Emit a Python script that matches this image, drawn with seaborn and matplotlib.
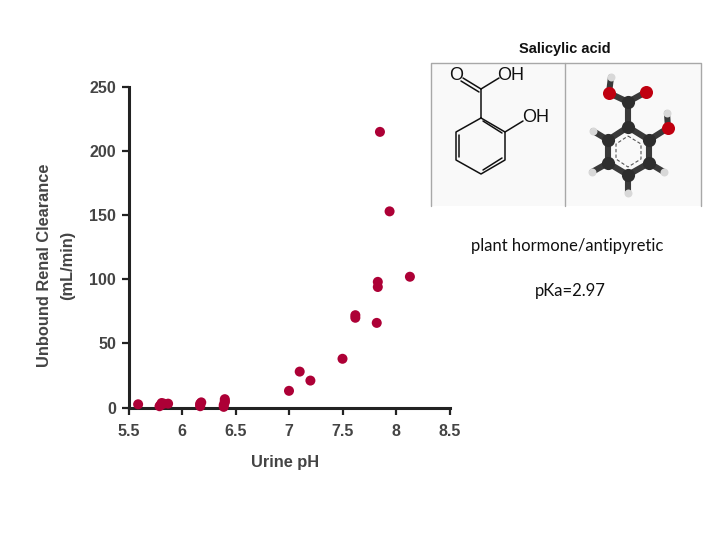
import pandas as pd
import seaborn as sns
import matplotlib.pyplot as plt
from matplotlib.patches import Rectangle

# Data
urine_ph = [5.59, 5.79, 5.8, 5.81, 5.83, 5.87, 6.17, 6.17, 6.17, 6.18,
            6.39, 6.39, 6.4, 6.4, 6.4, 7.0, 7.1, 7.2, 7.5, 7.62, 7.62,
            7.82, 7.83, 7.83, 7.85, 7.94, 8.13]
clearance = [2.5, 1, 2, 3.5, 3, 3, 1, 2, 3, 4,
             0.5, 2, 4, 5, 6.5, 13, 28, 21, 38, 70, 72,
             66, 94, 98, 215, 153, 102]
x_ticks = [5.5, 6, 6.5, 7, 7.5, 8, 8.5]
x_tick_labels = ["5.5", "6", "6.5", "7", "7.5", "8", "8.5"]
y_ticks = [0, 50, 100, 150, 200, 250]

df = pd.DataFrame({"ph": urine_ph, "clearance": clearance})

sns.set_style("ticks")
plt.rcParams['font.family'] = ['Liberation Sans', 'DejaVu Sans']
GREY = "#444444"

fig = plt.figure(figsize=(7.2, 5.4), dpi=100, facecolor="white")
ax = fig.add_axes([128.5 / 720, (540 - 407.5) / 540, 321 / 720, 320.5 / 540])
ax.patch.set_alpha(0)

sns.scatterplot(data=df, x="ph", y="clearance", color="#ad0036", s=52,
                edgecolor="none", linewidth=0, clip_on=False, zorder=5, ax=ax)

ax.set_xlim(5.5, 8.5)
ax.set_ylim(0, 250)
ax.set_xticks(x_ticks, x_tick_labels)
ax.set_yticks(y_ticks)
ax.tick_params(length=5, width=1.6, color="#222222", labelsize=11.5,
               labelcolor=GREY)
ax.tick_params(axis="x", pad=7)
ax.tick_params(axis="y", pad=4)
for lab in ax.get_xticklabels() + ax.get_yticklabels():
    lab.set_fontweight("bold")
sns.despine(ax=ax)
for side in ["left", "bottom"]:
    ax.spines[side].set_linewidth(2.2)
    ax.spines[side].set_color("#222222")
ax.set_xlabel("")
ax.set_ylabel("")

# overlay in pixel coordinates for the labels and the molecule picture
ov = fig.add_axes([0, 0, 1, 1])
ov.set_xlim(0, 720)
ov.set_ylim(540, 0)
ov.axis("off")
ov.patch.set_alpha(0)

ov.text(285, 462, "Urine pH", fontsize=11.8, fontweight="bold", color=GREY,
        ha="center", va="center")
ov.text(45, 265, "Unbound Renal Clearance", fontsize=11.8, fontweight="bold",
        color=GREY, rotation=90, ha="center", va="center")
ov.text(68, 265, "(mL/min)", fontsize=11.8, fontweight="bold", color=GREY,
        rotation=90, ha="center", va="center")

ov.text(565, 49.5, "Salicylic acid", fontsize=10.5, fontweight="bold", color="#111111",
        ha="center", va="center")
ov.add_patch(Rectangle((431, 63), 270, 143, facecolor="#f9f9f9", edgecolor="none", zorder=1))
frame = "#a8a8a8"
ov.plot([430.5, 430.5, 700.5, 700.5], [206, 62.5, 62.5, 206], color=frame, lw=1, zorder=2)
ov.plot([564.5, 564.5], [63, 206], color=frame, lw=1, zorder=2)

# skeletal formula
ring = [(481, 118), (505, 132), (505, 160), (481, 174), (456, 160), (456, 132), (481, 118)]
ov.plot([p[0] for p in ring], [p[1] for p in ring], color="#111111", lw=1.1, zorder=3)
bonds = [((481, 118), (481, 89)), ((481, 89), (499, 78)), ((505, 132), (523, 121)),
         ((481, 89), (463, 78)), ((479, 92), (461, 81)),
         ((483, 121), (502, 133)), ((502, 158), (483, 170)), ((459, 157), (459, 135))]
for a, b in bonds:
    ov.plot([a[0], b[0]], [a[1], b[1]], color="#111111", lw=1.1, zorder=3)
ov.text(456, 75, "O", fontsize=13, color="#111111", ha="center", va="center", zorder=3)
ov.text(511, 75, "OH", fontsize=13, color="#111111", ha="center", va="center", zorder=3)
ov.text(536, 118, "OH", fontsize=13, color="#111111", ha="center", va="center", zorder=3)

# ball and stick model
atoms_c = [(628, 102), (628, 127), (649, 140), (649, 163), (628, 175), (608, 163), (608, 140)]
atoms_o = [(609, 93), (646, 92), (668, 128)]
atoms_h = [(611, 77), (667, 113), (593, 131), (592, 172), (664, 172), (628, 193)]
sticks = [((611, 77), (609, 93)), ((609, 93), (628, 102)), ((646, 92), (628, 102)),
          ((628, 102), (628, 127)), ((649, 140), (668, 128)), ((668, 128), (667, 113)),
          ((608, 140), (593, 131)), ((608, 163), (592, 172)), ((649, 163), (664, 172)),
          ((628, 175), (628, 193))]
hexagon = atoms_c[1:] + [atoms_c[1]]
for i in range(6):
    sticks.append((hexagon[i], hexagon[i + 1]))
for a, b in sticks:
    ov.plot([a[0], b[0]], [a[1], b[1]], color="#3a3a3a", lw=4.4, zorder=4)
inner = [(628, 136), (641, 144), (641, 159), (628, 167), (616, 159), (616, 144), (628, 136)]
ov.plot([p[0] for p in inner], [p[1] for p in inner], color="#555555", lw=0.8,
        linestyle=(0, (3, 2)), zorder=4)
ov.scatter(*zip(*atoms_c), s=90, color="#2e2e2e", linewidths=0, zorder=5)
ov.scatter(*zip(*atoms_o), s=88, color="#c00010", linewidths=0, zorder=5)
ov.scatter(*zip(*atoms_h), s=33, color="#d8d8d8", linewidths=0, zorder=5)

# notes
note_font = ['Lato', 'DejaVu Sans']
ov.text(567, 246, "plant hormone/antipyretic", fontsize=12, family=note_font,
        color="#111111", ha="center", va="center")
ov.text(570, 291, "pKa=2.97", fontsize=12, family=note_font,
        color="#111111", ha="center", va="center")

fig.savefig("out.png", dpi=100)
